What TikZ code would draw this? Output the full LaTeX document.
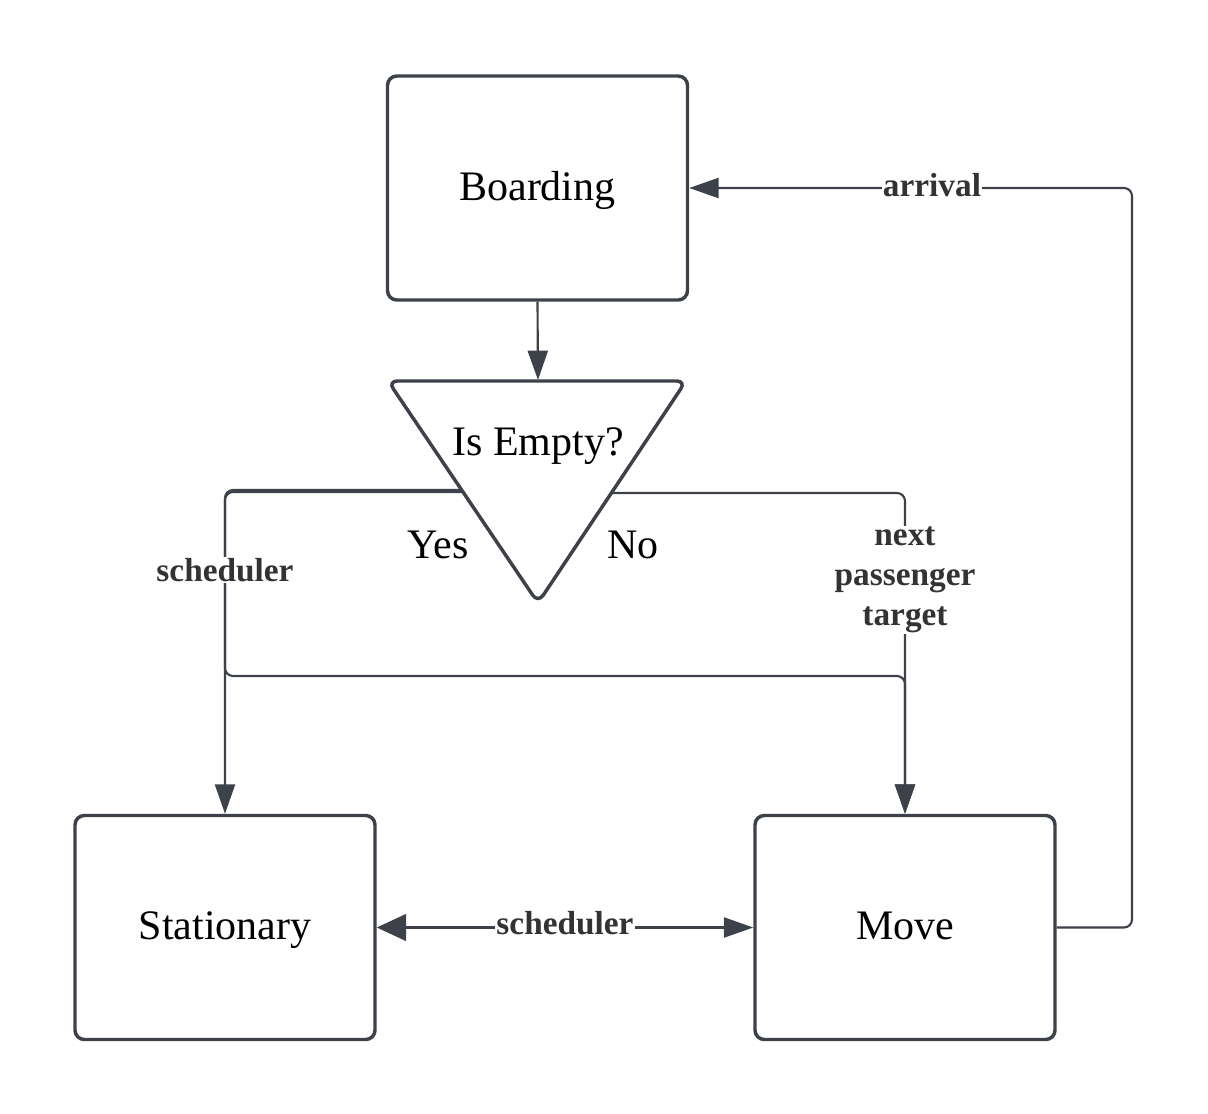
\documentclass[tikz,border=0pt]{standalone}
\usepackage{fontspec}
\setmainfont{Liberation Serif}
\usetikzlibrary{arrows.meta,calc}
\definecolor{ink}{HTML}{3D4149}
\definecolor{lbl}{HTML}{333333}
\tikzset{
  box/.style={draw=ink, line width=2.6pt, rounded corners=7pt, minimum width=225pt, minimum height=168pt, font=\fontsize{31.5}{36}\selectfont, text=black, text height=18pt, text depth=0pt},
  conn/.style={draw=ink, line width=1.6pt, rounded corners=6pt},
  tip/.style={-{Triangle[length=22pt,width=15pt]}},
  lab/.style={fill=white, inner sep=1pt, text=lbl, font=\bfseries\fontsize{25}{30}\selectfont, align=center},
  plain/.style={font=\fontsize{31.5}{36}\selectfont, text=black}
}
\begin{document}
\begin{tikzpicture}[x=0.75pt,y=-0.75pt]
\useasboundingbox (0,0) rectangle (1208,1114);
% boxes
\node[box] (board) at (537.5,188) {Boarding};
\node[box] (stat) at (225,927.5) {Stationary};
\node[box] (move) at (905,927.5) {Move};
% decision triangle
\draw[draw=ink, line width=2.6pt, rounded corners=7pt] (388,381) -- (686,381) -- (538,603) -- cycle;
\node[plain] (empty) at (538,446) {Is Empty?};
\node[plain] (yes) at (438,545) {Yes};
\node[plain] (no) at (633,545) {No};
\coordinate (ttop) at (538,380);
\coordinate (tL1) at (464,492);
\coordinate (tL2) at (463,490);
\coordinate (tR) at (612,493);
\coordinate (midrow) at (0,676);
\coordinate (rcol) at (1132,0);
% connectors
\draw[conn,tip] (board.south) -- (ttop);
\draw[conn,tip] (tL2) -- (tL2 -| stat.north) -- (stat.north |- midrow) -- (midrow -| move.north) -- (move.north);
\draw[conn,tip] (tL1) -| (stat.north);
\draw[conn,tip] (tR) -| (move.north);
\draw[conn,tip] (move.east) -- (move.east -| rcol) -- (rcol |- board.east) -- (board.east);
\draw[conn,{Triangle[length=22pt,width=20pt]}-{Triangle[length=22pt,width=15pt]}] (stat.east) -- (move.west);
% labels
\node[lab] (l1) at (225,570) {scheduler};
\node[lab] (l2) at (905,580) {next\\passenger\\target};
\node[lab] (l3) at (932,185) {arrival};
\node[lab] (l4) at (565,923) {scheduler};
\end{tikzpicture}
\end{document}
